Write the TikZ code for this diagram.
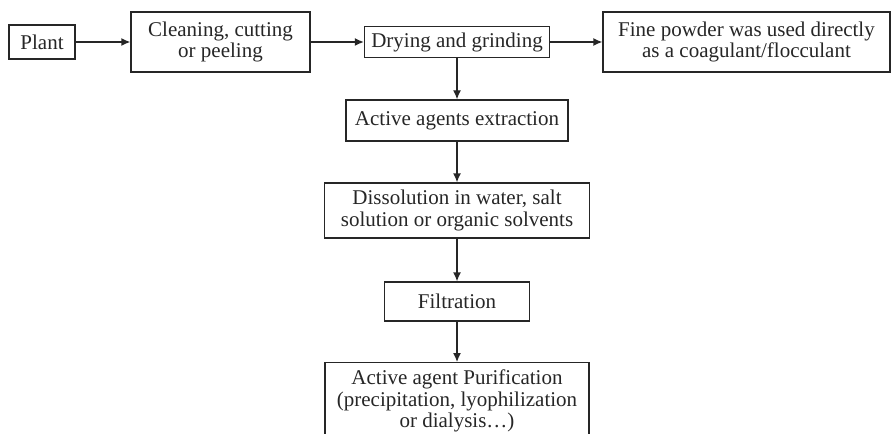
\documentclass[tikz,border=0pt]{standalone}
\usepackage{fontspec}
\setmainfont{Liberation Serif}
\usetikzlibrary{arrows.meta}

\begin{document}
\begin{tikzpicture}[x=0.5pt,y=-0.5pt,
  procbox/.style={draw=black!85,line width=0.65pt,align=center,inner sep=0pt,text=black!85,font=\fontsize{10.5}{10.8}\selectfont},
  flow/.style={draw=black!85,line width=0.65pt,-{Latex[length=4.5pt,width=4pt]}}]
\useasboundingbox (0,0) rectangle (892,433);
\clip (0,0) rectangle (892,433);
\node[procbox,minimum width=33pt,minimum height=17pt] (plant) at (42,42) {Plant};
\node[procbox,minimum width=89.5pt,minimum height=30pt] (clean) at (220.5,42) {Cleaning, cutting\\or peeling};
\node[procbox,minimum width=92.5pt,minimum height=15.5pt] (dry) at (457,42) {Drying and grinding};
\node[procbox,minimum width=143.5pt,minimum height=30pt] (fine) at (746.5,42) {Fine powder was used directly\\as a coagulant/flocculant};
\node[procbox,minimum width=111pt,minimum height=20.5pt] (extract) at (457,120.5) {Active agents extraction};
\node[procbox,minimum width=132.5pt,minimum height=27.5pt] (dissolve) at (457,210.5) {Dissolution in water, salt\\solution or organic solvents};
\node[procbox,minimum width=72.5pt,minimum height=19.5pt] (filt) at (457,301.5) {Filtration};
\node[procbox,minimum width=132pt,minimum height=45pt,anchor=north] (purif) at (457,362) {};
\node[procbox,draw=none,anchor=north] (puriftext) at (457,369) {Active agent Purification\\(precipitation, lyophilization\\or dialysis\dots)};
\draw[flow] (plant) -- (clean);
\draw[flow] (clean) -- (dry);
\draw[flow] (dry) -- (fine);
\draw[flow] (dry) -- (extract);
\draw[flow] (extract) -- (dissolve);
\draw[flow] (dissolve) -- (filt);
\draw[flow] (filt) -- (purif);
\end{tikzpicture}
\end{document}
